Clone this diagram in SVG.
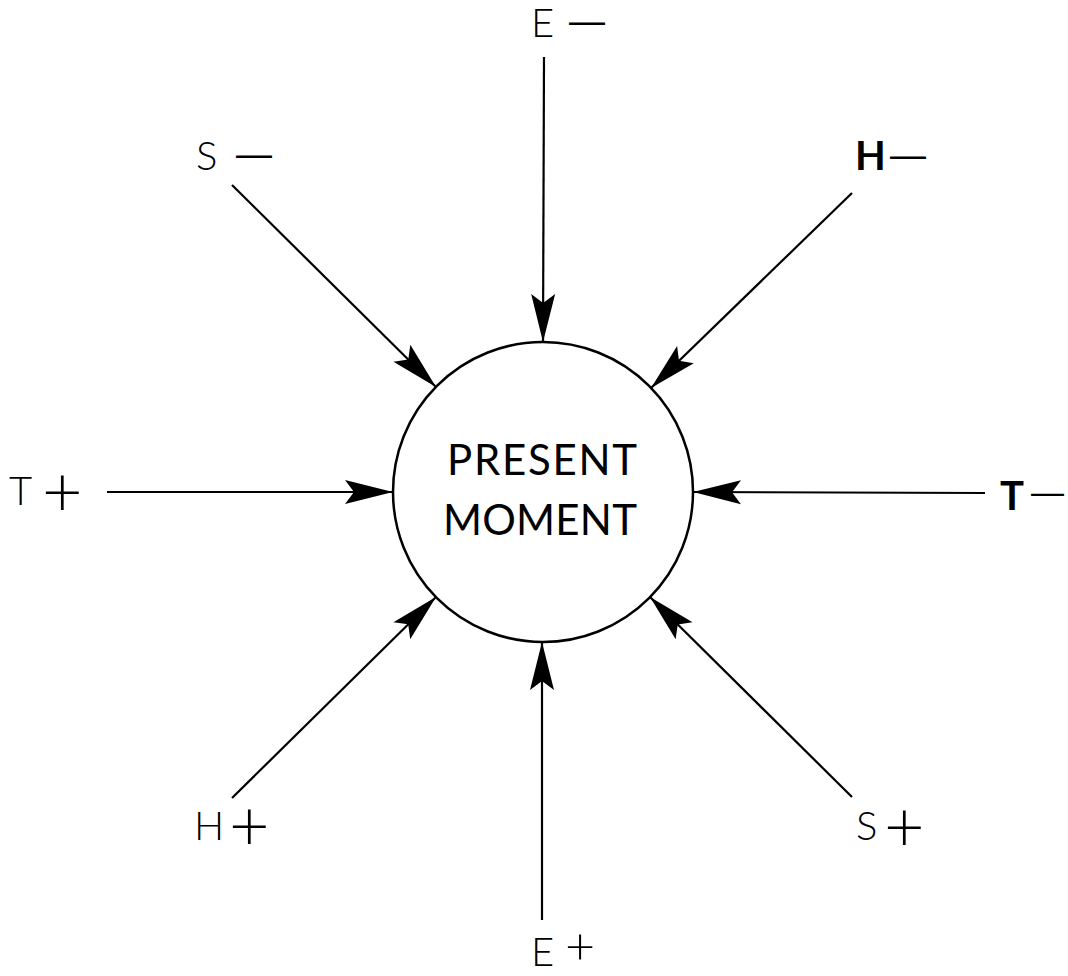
<svg xmlns="http://www.w3.org/2000/svg" width="1068" height="976" viewBox="0 0 1068 976">
<style>
.lbl{font-family:Lato,"Liberation Sans",sans-serif;font-weight:300;font-size:40px;fill:#000}
.bold{font-weight:700}
.dash{font-family:"Liberation Sans",sans-serif;font-size:36px;font-weight:400}
.sign{font-size:70px}
.mid{font-family:Lato,"Liberation Sans",sans-serif;font-weight:400;font-size:42px;fill:#000}
.conn{stroke:#000;stroke-width:2.2;fill:none;marker-end:url(#arr)}
</style>
<defs>
<marker id="arr" markerUnits="userSpaceOnUse" markerWidth="52" markerHeight="28" viewBox="0 -14 52 28" refX="50" refY="0" orient="auto">
<path d="M50,0 L2,-12 L11,0 L2,12 Z" fill="#000"/>
</marker>
</defs>
<rect width="1068" height="976" fill="#fff"/>
<g id="connectors">
<line class="conn" x1="544" y1="57" x2="543" y2="342"/>
<line class="conn" x1="232" y1="185" x2="436" y2="387"/>
<line class="conn" x1="852" y1="193" x2="651" y2="388"/>
<line class="conn" x1="107" y1="492" x2="393" y2="492"/>
<line class="conn" x1="985" y1="493" x2="693" y2="492"/>
<line class="conn" x1="232" y1="798" x2="436" y2="597"/>
<line class="conn" x1="852" y1="797" x2="650" y2="597"/>
<line class="conn" x1="542" y1="920" x2="542" y2="642"/>
</g>
<g id="present-moment">
<circle cx="543" cy="492" r="150" fill="none" stroke="#000" stroke-width="2.5"/>
<text class="mid" x="447" y="475" textLength="190" lengthAdjust="spacing">PRESENT</text>
<text class="mid" x="443" y="535" textLength="194" lengthAdjust="spacing">MOMENT</text>
</g>
<g id="e-minus"><text class="lbl"><tspan x="531" y="37">E</tspan><tspan class="dash" x="569" y="33">—</tspan></text></g>
<g id="s-minus"><text class="lbl"><tspan x="196" y="170">S</tspan><tspan class="dash" x="236" y="166">—</tspan></text></g>
<g id="h-minus"><text class="lbl bold"><tspan x="855" y="170">H</tspan><tspan class="dash" x="890" y="167">—</tspan></text></g>
<g id="t-plus"><text class="lbl"><tspan x="9" y="505">T</tspan><tspan class="sign" x="42" y="517">+</tspan></text></g>
<g id="t-minus"><text class="lbl bold"><tspan x="1000" y="510">T</tspan><tspan class="dash" x="1031" y="503" style="font-size:33px">—</tspan></text></g>
<g id="h-plus"><text class="lbl"><tspan x="194" y="840">H</tspan><tspan class="sign" x="229" y="851">+</tspan></text></g>
<g id="s-plus"><text class="lbl"><tspan x="856" y="840">S</tspan><tspan class="sign" x="884" y="852">+</tspan></text></g>
<g id="e-plus"><text class="lbl"><tspan x="531" y="966">E</tspan><tspan x="565" y="964" style="font-size:52px">+</tspan></text></g>
</svg>
